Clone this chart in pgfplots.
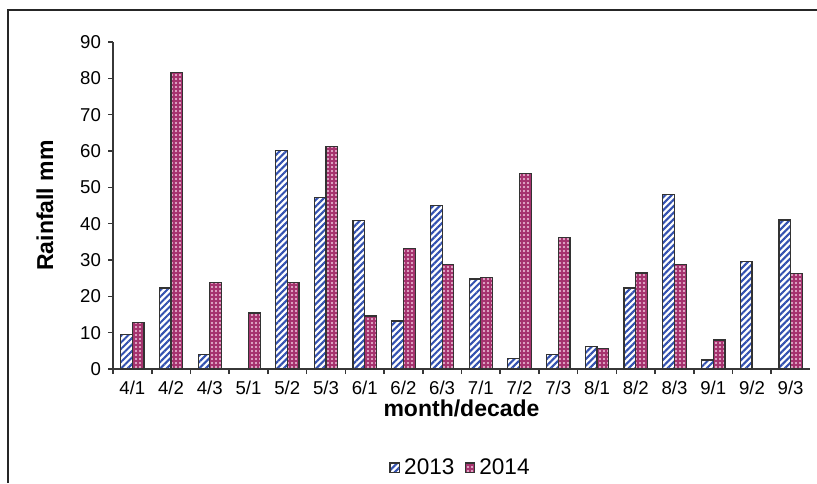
\documentclass[border=0pt]{standalone}
\usepackage{fontspec}
\setmainfont{Liberation Sans}
\usepackage{pgfplots}
\pgfplotsset{compat=1.18}
\usetikzlibrary{patterns.meta}
\definecolor{cblue}{RGB}{50,80,175}
\definecolor{cmag}{RGB}{165,50,110}
\definecolor{cpink}{RGB}{240,200,222}
\definecolor{axgray}{RGB}{55,55,55}
\begin{document}
\begin{tikzpicture}
\useasboundingbox (0,0) rectangle (408.5pt,241.5pt);
\draw[line width=1pt, black!85] (4pt,0) -- (4pt,236.5pt) -- (408.5pt,236.5pt);
\begin{axis}[
  at={(56.5pt,57pt)}, anchor=south west, scale only axis,
  width=348.5pt, height=163.5pt,
  ybar=0pt, bar width=5.85pt,
  xmin=-0.5, xmax=17.5, ymin=0, ymax=90,
  axis x line*=bottom, axis y line*=left,
  axis line style={axgray, line width=0.8pt},
  ytick={0,10,...,90},
  xtick={0,...,17},
  xticklabels={4/1,4/2,4/3,5/1,5/2,5/3,6/1,6/2,6/3,7/1,7/2,7/3,8/1,8/2,8/3,9/1,9/2,9/3},
  major x tick style={draw=none},
  minor xtick={-0.5,0.5,...,16.5},
  tick align=outside, major tick length=2.5pt, minor tick length=2.5pt,
  tick style={axgray, line width=0.8pt},
  ticklabel style={font=\fontsize{9.3}{11}\selectfont},
  /pgf/number format/assume math mode=true,
  xlabel={\textbf{month/decade}},
  ylabel={\textbf{Rainfall mm}},
  label style={font=\fontsize{11.5}{13}\selectfont},
  xlabel style={at={(axis description cs:0.5,-0.121)}, anchor=center},
  ylabel style={at={(axis description cs:-0.0976,0.5)}, anchor=center},
  legend style={at={(axis description cs:0.5,-0.302)}, anchor=center, draw=none,
    font=\fontsize{11.3}{13}\selectfont, inner sep=0pt,
    /tikz/every even column/.append style={column sep=3pt}},
  legend columns=2,
  legend image code/.code={\draw[#1] (0pt,-2.4pt) rectangle (4.8pt,2.4pt);},
]
\addplot[draw=black!80, line width=0.6pt, fill=white,
  postaction={pattern={Lines[angle=45,distance=2.3pt,line width=1.05pt]}, pattern color=cblue}]
  coordinates {(0,9.6)(1,22.3)(2,4.1)(4,60.1)(5,47.2)(6,40.8)(7,13.2)(8,44.9)(9,24.8)(10,2.9)(11,3.9)(12,6.3)(13,22.3)(14,48.0)(15,2.5)(16,29.6)(17,41.0)};
\addplot[draw=black!80, line width=0.6pt, fill=cmag,
  postaction={pattern={Dots[distance=2pt,radius=0.55pt]}, pattern color=cpink}]
  coordinates {(0,12.9)(1,81.7)(2,23.9)(3,15.4)(4,23.9)(5,61.2)(6,14.6)(7,33.2)(8,28.8)(9,25.1)(10,53.8)(11,36.1)(12,5.7)(13,26.4)(14,28.8)(15,8.0)(17,26.3)};
\legend{2013,2014}
\end{axis}
\end{tikzpicture}
\end{document}
